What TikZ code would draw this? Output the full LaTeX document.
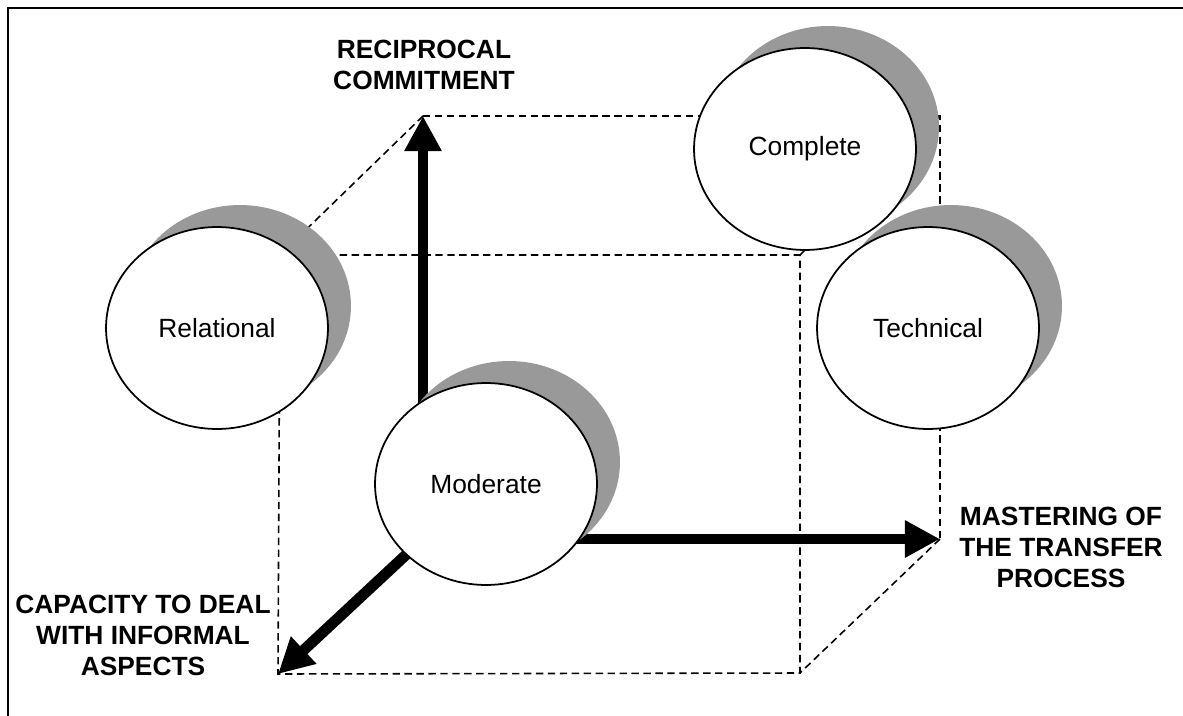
\documentclass[tikz,border=0pt]{standalone}
\usepackage{fontspec}
\setmainfont{Liberation Sans}
\usetikzlibrary{arrows.meta,shapes.geometric,shadows}
\definecolor{shade}{gray}{0.6}
\begin{document}
\begin{tikzpicture}[x=0.02cm,y=-0.02cm,
  bubble/.style={ellipse, draw=black, line width=1pt, fill=white,
    minimum width=4.44cm, minimum height=4.04cm, inner sep=0pt,
    font=\fontsize{15pt}{18pt}\selectfont,
    general shadow={fill=shade, draw=none, shadow xshift=0.46cm, shadow yshift=0.44cm}},
  cube/.style={dash pattern=on 4.2pt off 2.6pt, line width=0.9pt},
  axis/.style={line width=6.2pt, -{Triangle[length=20pt,width=20pt]}},
  lab/.style={align=center, anchor=north, inner sep=0pt,
    font=\bfseries\fontsize{15pt}{17.6pt}\selectfont}]
\useasboundingbox (0,0) rectangle (1183,716);
% frame
\coordinate (fa) at (8,716);
\coordinate (fb) at (8,8);
\coordinate (fc) at (1183,8);
\draw[line width=1.2pt] (fa) -- (fb) -- (fc);
% cube corners
\coordinate (ftl) at (280,255);
\coordinate (ftr) at (800,255);
\coordinate (fbr) at (800,673);
\coordinate (fbl) at (278,674);
\coordinate (btl) at (423,116);
\coordinate (btr) at (940,116);
\coordinate (bbr) at (940,539);
\coordinate (o) at (423,539);
\draw[cube] (ftl) -- (ftr) -- (fbr) -- (fbl) -- cycle;
\draw[cube] (btl) -- (btr) -- (bbr);
\draw[cube] (btl) -- (ftl);
\draw[cube] (btr) -- (ftr);
\draw[cube] (bbr) -- (fbr);
% axes
\draw[axis] (o) -- (btl);
\draw[axis] (o) -- (bbr);
\draw[axis] (o) -- (fbl);
% bubbles
\node[bubble] (rel) at (217,328) {Relational};
\node[bubble] (com) at (805,149) {Complete};
\node[bubble] (tec) at (928,328) {Technical};
\node[bubble] (mod) at (486,484) {Moderate};
% labels
\node[lab] (lr) at (424,40) {RECIPROCAL\\COMMITMENT};
\node[lab] (lm) at (1061,507) {MASTERING OF\\THE TRANSFER\\PROCESS};
\node[lab] (lc) at (143,595) {CAPACITY TO DEAL\\WITH INFORMAL\\ASPECTS};
\end{tikzpicture}
\end{document}
